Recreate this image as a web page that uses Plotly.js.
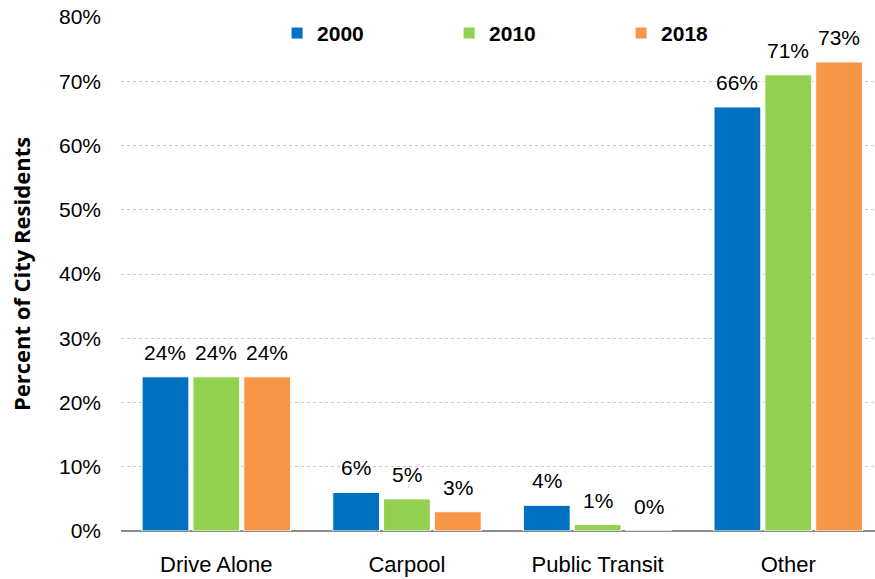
<!DOCTYPE html>
<html>
<head>
<meta charset="utf-8">
<script src="https://cdn.plot.ly/plotly-3.0.1.min.js"></script>
<style>html,body{margin:0;padding:0;background:#fff;}#chart{width:875px;height:579px;}</style>
</head>
<body>
<div id="chart"></div>
<script>
const categories = ["Drive Alone", "Carpool", "Public Transit", "Other"];
const years = ["2000", "2010", "2018"];
const values2000 = [24, 6, 4, 66];
const values2010 = [24, 5, 1, 71];
const values2018 = [24, 3, 0, 73];
const colors = ["#0070C0", "#92D050", "#F79646"];
const yTickVals = [0, 10, 20, 30, 40, 50, 60, 70, 80];
const yTickText = ["0%", "10%", "20%", "30%", "40%", "50%", "60%", "70%", "80%"];

const FONT = "Liberation Sans, Arial, sans-serif";
const series = [values2000, values2010, values2018];
const traces = series.map((vals, i) => ({
  type: "bar",
  name: years[i],
  x: categories,
  y: vals,
  marker: {color: colors[i], line: {color: "#ffffff", width: 1}},
  hoverinfo: "skip"
}));

// data labels placed via the axes (category x, value y), shifted to each bar of the group
const SLOT = 51;
const annotations = [];
series.forEach((vals, i) => {
  vals.forEach((v, j) => {
    annotations.push({
      x: categories[j], y: v, xref: "x", yref: "y",
      text: v + "%", showarrow: false,
      xanchor: "center", yanchor: "bottom",
      xshift: (i - 1) * SLOT, yshift: 11,
      font: {family: FONT, size: 21, color: "#000"}
    });
  });
});

const layout = {
  width: 875, height: 579,
  margin: {l: 121, r: 0, t: 17, b: 48},
  paper_bgcolor: "#fff", plot_bgcolor: "#fff",
  barmode: "group",
  bargap: 0.2,
  bargroupgap: 0.08,
  font: {family: FONT, color: "#000"},
  showlegend: true,
  annotations: annotations,
  legend: {
    orientation: "h", x: 0.207, y: 1.008, xanchor: "left", yanchor: "top",
    font: {family: FONT, size: 21, color: "#000", weight: "bold"},
    entrywidth: 127, entrywidthmode: "pixels",
    itemwidth: 30,
    bgcolor: "rgba(0,0,0,0)"
  },
  xaxis: {
    type: "category",
    range: [-0.5, 3.455],
    showgrid: false,
    showline: false,
    ticks: "",
    tickfont: {family: FONT, size: 22, color: "#000"},
    ticklabelstandoff: 18,
    fixedrange: true
  },
  yaxis: {
    range: [0, 80],
    tickvals: yTickVals,
    ticktext: yTickText,
    tickfont: {family: FONT, size: 21, color: "#000"},
    ticklabelstandoff: 19,
    showgrid: true,
    gridcolor: "#c8c8c8",
    griddash: "dot",
    gridwidth: 1,
    zeroline: true,
    zerolinecolor: "#8c8c8c",
    zerolinewidth: 1.5,
    showline: false,
    title: {text: "Percent of City Residents", font: {family: "Open Sans, Liberation Sans, sans-serif", size: 22, color: "#000", weight: "bold"}, standoff: 22},
    fixedrange: true
  }
};

Plotly.newPlot("chart", traces, layout, {displayModeBar: false, staticPlot: true});
</script>
</body>
</html>
